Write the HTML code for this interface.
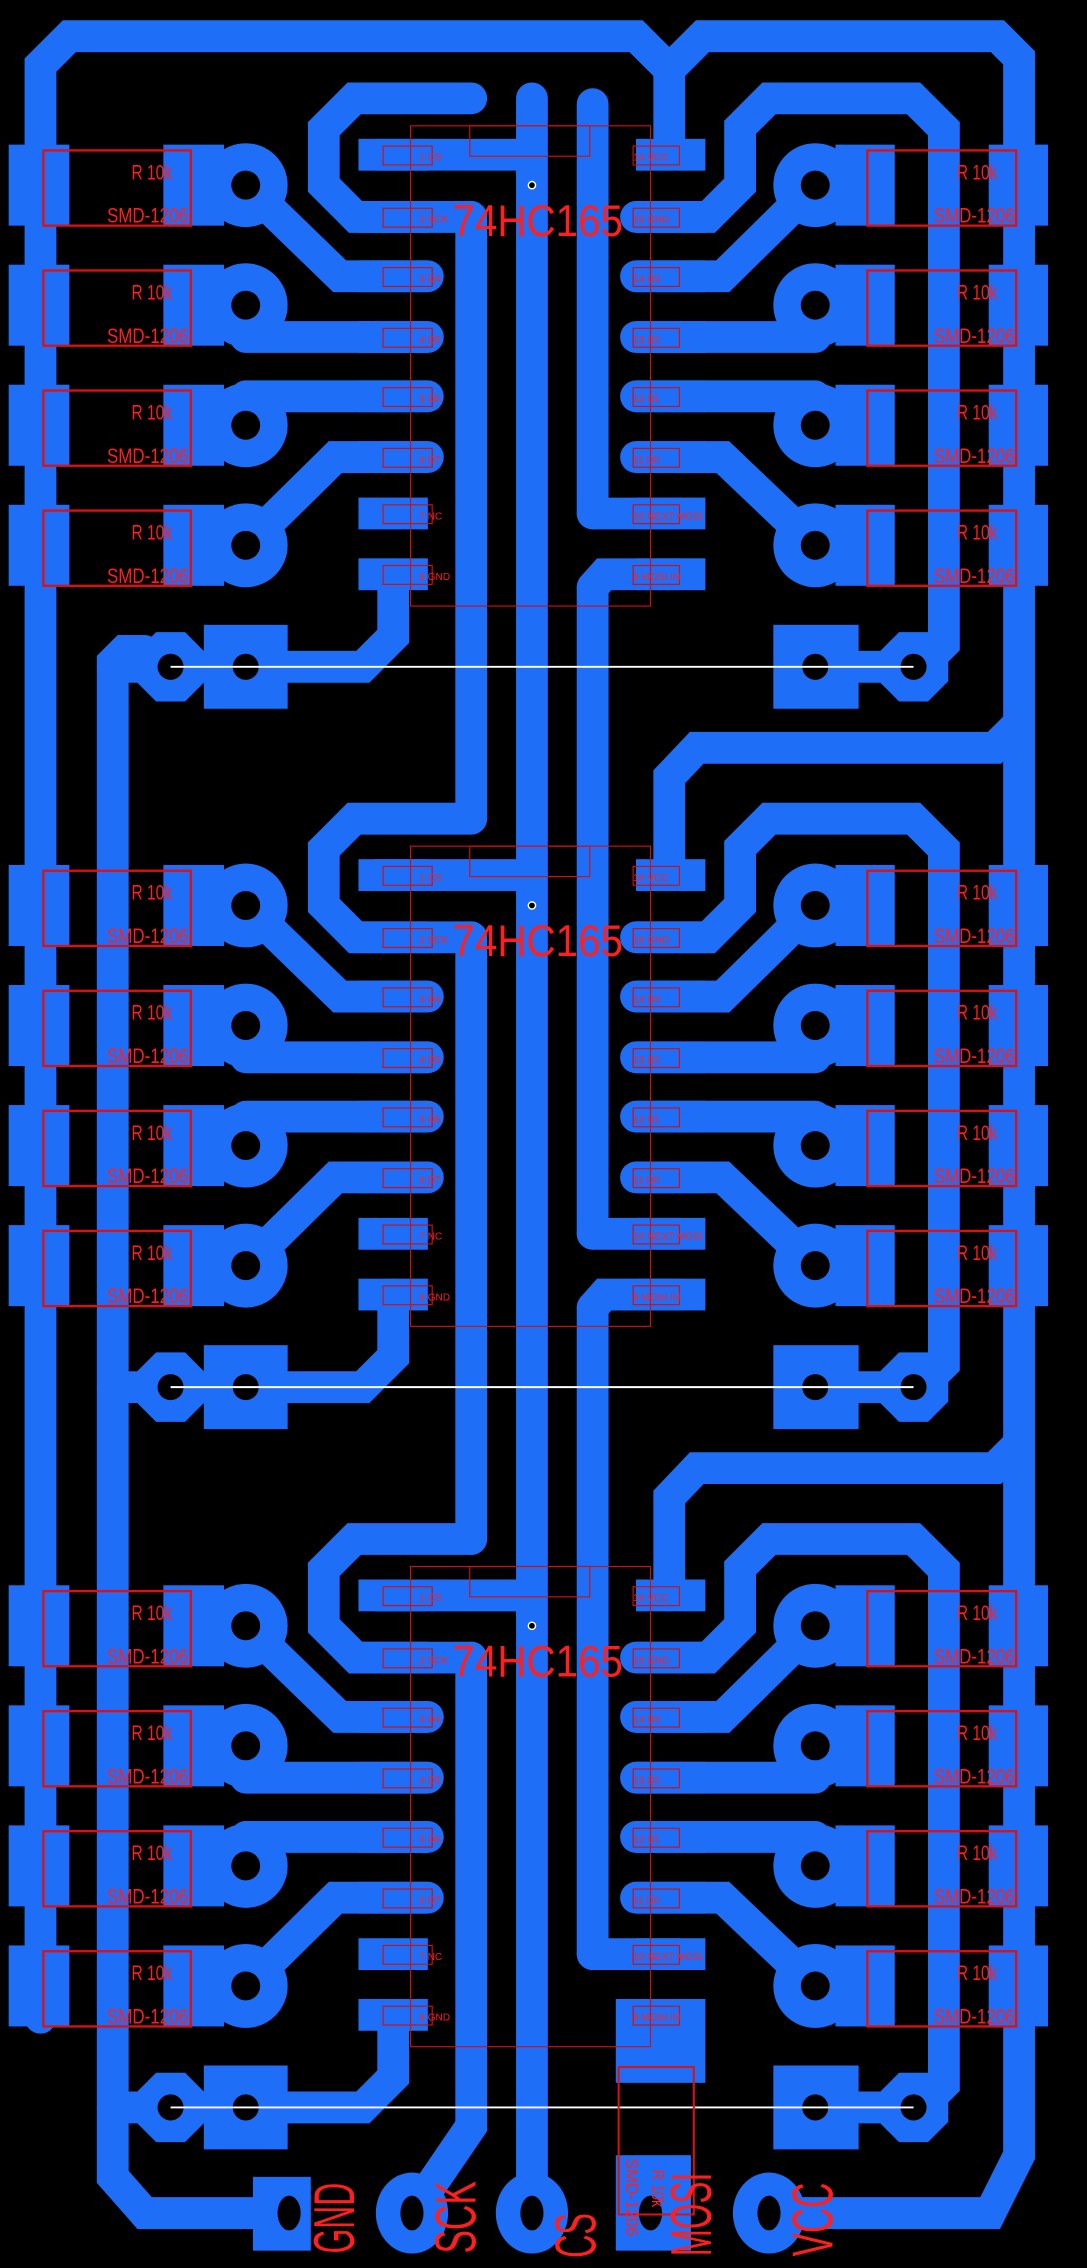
<!DOCTYPE html>
<html><head><meta charset="utf-8"><style>
html,body{margin:0;padding:0;background:#000;}
svg{display:block;}
text{font-family:"Liberation Sans Narrow","Liberation Sans",sans-serif;fill:#ff1f1f;}
</style></head><body>
<svg width="1087" height="2268" viewBox="0 0 752 1568" preserveAspectRatio="none" xmlns="http://www.w3.org/2000/svg">
<rect width="752" height="1568" fill="#000"/>

<g fill="none" stroke="#1f6ef8" stroke-width="22" stroke-linecap="round" stroke-linejoin="miter">
<path d="M28,1395 L28,45 L48,25 L440,25 L463,48 L463,107 M463,48 L486,25 L690,25 L705,40 L705,1490 L685,1530 L540,1530"/>
<path d="M100,450 L86,450 L78,458 L78,1505 L100,1530 L200,1530"/>
<path d="M368,68 L368,1530"/>
<path d="M410,72 L410,355 M410,406 L410,853 M410,904 L410,1351"/>
<path d="M326,150 L326,566 M326,648 L326,1064 M326,1146 L326,1470 L285,1530"/>
<path d="M463,605 L463,537 L482,517 L688,517 L705,500 M463,1103 L463,1035 L482,1015 L688,1015 L705,998"/>
</g>

<g>
<g fill="none" stroke="#1f6ef8" stroke-width="22" stroke-linecap="round">
<path d="M170,128 L235,191 L296,191 M170,233 L296,233 M170,274 L296,274 M170,377 L232,316 L296,316 M260,107 L368,107 M326,68 L245,68 L224,89 L224,128 L246,150 L326,150 M272,397 L272,440 L251,461 L190,461 M78,461 L118,461"/>
<path d="M564,128 L500,191 L440,191 M564,233 L440,233 M564,274 L440,274 M564,377 L500,316 L440,316 M440,150 L490,150 L512,128 L512,88 L532,68 L632,68 L653,89 L653,445 L637,461 L594,461 M470,397 L418,397 L410,406 M410,355 L470,355"/>
</g>
<g fill="#1f6ef8">
<rect x="6" y="100" width="42" height="56"/><rect x="113" y="100" width="42" height="56"/><circle cx="170" cy="128" r="29"/>
<rect x="6" y="183" width="42" height="56"/><rect x="113" y="183" width="42" height="56"/><circle cx="170" cy="211" r="29"/>
<rect x="6" y="266" width="42" height="56"/><rect x="113" y="266" width="42" height="56"/><circle cx="170" cy="294" r="29"/>
<rect x="6" y="349" width="42" height="56"/><rect x="113" y="349" width="42" height="56"/><circle cx="170" cy="377" r="29"/>
<rect x="684" y="100" width="41" height="56"/><rect x="578" y="100" width="41" height="56"/><circle cx="564" cy="128" r="29"/>
<rect x="684" y="183" width="41" height="56"/><rect x="578" y="183" width="41" height="56"/><circle cx="564" cy="211" r="29"/>
<rect x="684" y="266" width="41" height="56"/><rect x="578" y="266" width="41" height="56"/><circle cx="564" cy="294" r="29"/>
<rect x="684" y="349" width="41" height="56"/><rect x="578" y="349" width="41" height="56"/><circle cx="564" cy="377" r="29"/>
<rect x="248" y="96" width="48" height="22"/><rect x="248" y="139" width="48" height="22"/><rect x="248" y="180" width="48" height="22"/><rect x="248" y="222" width="48" height="22"/><rect x="248" y="263" width="48" height="22"/><rect x="248" y="305" width="48" height="22"/><rect x="248" y="344" width="48" height="22"/><rect x="248" y="386" width="48" height="22"/>
<rect x="440" y="96" width="48" height="22"/><rect x="440" y="139" width="48" height="22"/><rect x="440" y="180" width="48" height="22"/><rect x="440" y="222" width="48" height="22"/><rect x="440" y="263" width="48" height="22"/><rect x="440" y="305" width="48" height="22"/><rect x="440" y="344" width="48" height="22"/><rect x="440" y="386" width="48" height="22"/>
<rect x="141" y="432" width="58" height="58"/><polygon points="108,437 128,437 142,451 142,471 128,485 108,485 94,471 94,451"/>
<rect x="535" y="432" width="59" height="58"/><polygon points="622,437 642,437 656,451 656,471 642,485 622,485 608,471 608,451"/>
</g>
<g fill="#000">
<circle cx="170" cy="128" r="10"/><circle cx="170" cy="211" r="10"/><circle cx="170" cy="294" r="10"/><circle cx="170" cy="377" r="10"/>
<circle cx="564" cy="128" r="10"/><circle cx="564" cy="211" r="10"/><circle cx="564" cy="294" r="10"/><circle cx="564" cy="377" r="10"/>
<circle cx="118" cy="461" r="9"/><circle cx="170" cy="461" r="9"/><circle cx="564" cy="461" r="9"/><circle cx="632" cy="461" r="9"/>
</g>
<line x1="118" y1="461" x2="632" y2="461" stroke="#fff" stroke-width="1.3"/>
<g fill="none" stroke="#e01010" stroke-width="1.6">
<rect x="30" y="104" width="102" height="52"/><rect x="30" y="187" width="102" height="52"/><rect x="30" y="270" width="102" height="52"/><rect x="30" y="353" width="102" height="52"/>
<rect x="600" y="104" width="103" height="52"/><rect x="600" y="187" width="103" height="52"/><rect x="600" y="270" width="103" height="52"/><rect x="600" y="353" width="103" height="52"/>
</g>
<g fill="none" stroke="#d01010" stroke-width="0.8">
<rect x="284" y="87" width="166" height="332"/><rect x="325" y="87" width="83" height="21"/>
<rect x="265" y="101" width="34" height="13"/><rect x="265" y="144" width="34" height="13"/><rect x="265" y="185" width="34" height="13"/><rect x="265" y="227" width="34" height="13"/><rect x="265" y="268" width="34" height="13"/><rect x="265" y="310" width="34" height="13"/><rect x="265" y="349" width="34" height="13"/><rect x="265" y="391" width="34" height="13"/>
<rect x="438" y="101" width="32" height="13"/><rect x="438" y="144" width="32" height="13"/><rect x="438" y="185" width="32" height="13"/><rect x="438" y="227" width="32" height="13"/><rect x="438" y="268" width="32" height="13"/><rect x="438" y="310" width="32" height="13"/><rect x="438" y="349" width="32" height="13"/><rect x="438" y="391" width="32" height="13"/>
</g>
<circle cx="368" cy="128" r="2.5" fill="#000" stroke="#fff" stroke-width="1"/>
<g font-size="15">
<text x="91" y="124" textLength="28" lengthAdjust="spacingAndGlyphs">R 10k</text><text x="74" y="154" textLength="56" lengthAdjust="spacingAndGlyphs">SMD-1206</text>
<text x="91" y="207" textLength="28" lengthAdjust="spacingAndGlyphs">R 10k</text><text x="74" y="237" textLength="56" lengthAdjust="spacingAndGlyphs">SMD-1206</text>
<text x="91" y="290" textLength="28" lengthAdjust="spacingAndGlyphs">R 10k</text><text x="74" y="320" textLength="56" lengthAdjust="spacingAndGlyphs">SMD-1206</text>
<text x="91" y="373" textLength="28" lengthAdjust="spacingAndGlyphs">R 10k</text><text x="74" y="403" textLength="56" lengthAdjust="spacingAndGlyphs">SMD-1206</text>
<text x="662" y="124" textLength="28" lengthAdjust="spacingAndGlyphs">R 10k</text><text x="646" y="154" textLength="56" lengthAdjust="spacingAndGlyphs">SMD-1206</text>
<text x="662" y="207" textLength="28" lengthAdjust="spacingAndGlyphs">R 10k</text><text x="646" y="237" textLength="56" lengthAdjust="spacingAndGlyphs">SMD-1206</text>
<text x="662" y="290" textLength="28" lengthAdjust="spacingAndGlyphs">R 10k</text><text x="646" y="320" textLength="56" lengthAdjust="spacingAndGlyphs">SMD-1206</text>
<text x="662" y="373" textLength="28" lengthAdjust="spacingAndGlyphs">R 10k</text><text x="646" y="403" textLength="56" lengthAdjust="spacingAndGlyphs">SMD-1206</text>
</g>
<text x="313" y="163" font-size="31" textLength="118" lengthAdjust="spacingAndGlyphs">74HC165</text>
<g font-size="7">
<text x="290" y="111">1 CS</text><text x="290" y="154">2 SCK</text><text x="290" y="195">3 D4</text><text x="290" y="237">4 D5</text><text x="290" y="278">5 D6</text><text x="290" y="320">6 D7</text><text x="290" y="359">7 NC</text><text x="290" y="401">8 GND</text>
<text x="438" y="111">16 VCC</text><text x="438" y="154">15 GND</text><text x="438" y="195">14 D3</text><text x="438" y="237">13 D2</text><text x="438" y="278">12 D1</text><text x="438" y="320">11 D0</text><text x="438" y="359">10 NEXT MOSI</text><text x="438" y="401">9 MOSI IN</text>
</g>
</g>

<g transform="translate(0,498)">
<g fill="none" stroke="#1f6ef8" stroke-width="22" stroke-linecap="round">
<path d="M170,128 L235,191 L296,191 M170,233 L296,233 M170,274 L296,274 M170,377 L232,316 L296,316 M260,107 L368,107 M326,68 L245,68 L224,89 L224,128 L246,150 L326,150 M272,397 L272,440 L251,461 L190,461 M78,461 L118,461"/>
<path d="M564,128 L500,191 L440,191 M564,233 L440,233 M564,274 L440,274 M564,377 L500,316 L440,316 M440,150 L490,150 L512,128 L512,88 L532,68 L632,68 L653,89 L653,445 L637,461 L594,461 M470,397 L418,397 L410,406 M410,355 L470,355"/>
</g>
<g fill="#1f6ef8">
<rect x="6" y="100" width="42" height="56"/><rect x="113" y="100" width="42" height="56"/><circle cx="170" cy="128" r="29"/>
<rect x="6" y="183" width="42" height="56"/><rect x="113" y="183" width="42" height="56"/><circle cx="170" cy="211" r="29"/>
<rect x="6" y="266" width="42" height="56"/><rect x="113" y="266" width="42" height="56"/><circle cx="170" cy="294" r="29"/>
<rect x="6" y="349" width="42" height="56"/><rect x="113" y="349" width="42" height="56"/><circle cx="170" cy="377" r="29"/>
<rect x="684" y="100" width="41" height="56"/><rect x="578" y="100" width="41" height="56"/><circle cx="564" cy="128" r="29"/>
<rect x="684" y="183" width="41" height="56"/><rect x="578" y="183" width="41" height="56"/><circle cx="564" cy="211" r="29"/>
<rect x="684" y="266" width="41" height="56"/><rect x="578" y="266" width="41" height="56"/><circle cx="564" cy="294" r="29"/>
<rect x="684" y="349" width="41" height="56"/><rect x="578" y="349" width="41" height="56"/><circle cx="564" cy="377" r="29"/>
<rect x="248" y="96" width="48" height="22"/><rect x="248" y="139" width="48" height="22"/><rect x="248" y="180" width="48" height="22"/><rect x="248" y="222" width="48" height="22"/><rect x="248" y="263" width="48" height="22"/><rect x="248" y="305" width="48" height="22"/><rect x="248" y="344" width="48" height="22"/><rect x="248" y="386" width="48" height="22"/>
<rect x="440" y="96" width="48" height="22"/><rect x="440" y="139" width="48" height="22"/><rect x="440" y="180" width="48" height="22"/><rect x="440" y="222" width="48" height="22"/><rect x="440" y="263" width="48" height="22"/><rect x="440" y="305" width="48" height="22"/><rect x="440" y="344" width="48" height="22"/><rect x="440" y="386" width="48" height="22"/>
<rect x="141" y="432" width="58" height="58"/><polygon points="108,437 128,437 142,451 142,471 128,485 108,485 94,471 94,451"/>
<rect x="535" y="432" width="59" height="58"/><polygon points="622,437 642,437 656,451 656,471 642,485 622,485 608,471 608,451"/>
</g>
<g fill="#000">
<circle cx="170" cy="128" r="10"/><circle cx="170" cy="211" r="10"/><circle cx="170" cy="294" r="10"/><circle cx="170" cy="377" r="10"/>
<circle cx="564" cy="128" r="10"/><circle cx="564" cy="211" r="10"/><circle cx="564" cy="294" r="10"/><circle cx="564" cy="377" r="10"/>
<circle cx="118" cy="461" r="9"/><circle cx="170" cy="461" r="9"/><circle cx="564" cy="461" r="9"/><circle cx="632" cy="461" r="9"/>
</g>
<line x1="118" y1="461" x2="632" y2="461" stroke="#fff" stroke-width="1.3"/>
<g fill="none" stroke="#e01010" stroke-width="1.6">
<rect x="30" y="104" width="102" height="52"/><rect x="30" y="187" width="102" height="52"/><rect x="30" y="270" width="102" height="52"/><rect x="30" y="353" width="102" height="52"/>
<rect x="600" y="104" width="103" height="52"/><rect x="600" y="187" width="103" height="52"/><rect x="600" y="270" width="103" height="52"/><rect x="600" y="353" width="103" height="52"/>
</g>
<g fill="none" stroke="#d01010" stroke-width="0.8">
<rect x="284" y="87" width="166" height="332"/><rect x="325" y="87" width="83" height="21"/>
<rect x="265" y="101" width="34" height="13"/><rect x="265" y="144" width="34" height="13"/><rect x="265" y="185" width="34" height="13"/><rect x="265" y="227" width="34" height="13"/><rect x="265" y="268" width="34" height="13"/><rect x="265" y="310" width="34" height="13"/><rect x="265" y="349" width="34" height="13"/><rect x="265" y="391" width="34" height="13"/>
<rect x="438" y="101" width="32" height="13"/><rect x="438" y="144" width="32" height="13"/><rect x="438" y="185" width="32" height="13"/><rect x="438" y="227" width="32" height="13"/><rect x="438" y="268" width="32" height="13"/><rect x="438" y="310" width="32" height="13"/><rect x="438" y="349" width="32" height="13"/><rect x="438" y="391" width="32" height="13"/>
</g>
<circle cx="368" cy="128" r="2.5" fill="#000" stroke="#fff" stroke-width="1"/>
<g font-size="15">
<text x="91" y="124" textLength="28" lengthAdjust="spacingAndGlyphs">R 10k</text><text x="74" y="154" textLength="56" lengthAdjust="spacingAndGlyphs">SMD-1206</text>
<text x="91" y="207" textLength="28" lengthAdjust="spacingAndGlyphs">R 10k</text><text x="74" y="237" textLength="56" lengthAdjust="spacingAndGlyphs">SMD-1206</text>
<text x="91" y="290" textLength="28" lengthAdjust="spacingAndGlyphs">R 10k</text><text x="74" y="320" textLength="56" lengthAdjust="spacingAndGlyphs">SMD-1206</text>
<text x="91" y="373" textLength="28" lengthAdjust="spacingAndGlyphs">R 10k</text><text x="74" y="403" textLength="56" lengthAdjust="spacingAndGlyphs">SMD-1206</text>
<text x="662" y="124" textLength="28" lengthAdjust="spacingAndGlyphs">R 10k</text><text x="646" y="154" textLength="56" lengthAdjust="spacingAndGlyphs">SMD-1206</text>
<text x="662" y="207" textLength="28" lengthAdjust="spacingAndGlyphs">R 10k</text><text x="646" y="237" textLength="56" lengthAdjust="spacingAndGlyphs">SMD-1206</text>
<text x="662" y="290" textLength="28" lengthAdjust="spacingAndGlyphs">R 10k</text><text x="646" y="320" textLength="56" lengthAdjust="spacingAndGlyphs">SMD-1206</text>
<text x="662" y="373" textLength="28" lengthAdjust="spacingAndGlyphs">R 10k</text><text x="646" y="403" textLength="56" lengthAdjust="spacingAndGlyphs">SMD-1206</text>
</g>
<text x="313" y="163" font-size="31" textLength="118" lengthAdjust="spacingAndGlyphs">74HC165</text>
<g font-size="7">
<text x="290" y="111">1 CS</text><text x="290" y="154">2 SCK</text><text x="290" y="195">3 D4</text><text x="290" y="237">4 D5</text><text x="290" y="278">5 D6</text><text x="290" y="320">6 D7</text><text x="290" y="359">7 NC</text><text x="290" y="401">8 GND</text>
<text x="438" y="111">16 VCC</text><text x="438" y="154">15 GND</text><text x="438" y="195">14 D3</text><text x="438" y="237">13 D2</text><text x="438" y="278">12 D1</text><text x="438" y="320">11 D0</text><text x="438" y="359">10 NEXT MOSI</text><text x="438" y="401">9 MOSI IN</text>
</g>
</g>

<g transform="translate(0,996)">
<g fill="none" stroke="#1f6ef8" stroke-width="22" stroke-linecap="round">
<path d="M170,128 L235,191 L296,191 M170,233 L296,233 M170,274 L296,274 M170,377 L232,316 L296,316 M260,107 L368,107 M326,68 L245,68 L224,89 L224,128 L246,150 L326,150 M272,397 L272,440 L251,461 L190,461 M78,461 L118,461"/>
<path d="M564,128 L500,191 L440,191 M564,233 L440,233 M564,274 L440,274 M564,377 L500,316 L440,316 M440,150 L490,150 L512,128 L512,88 L532,68 L632,68 L653,89 L653,445 L637,461 L594,461 M410,355 L470,355"/>
</g>
<g fill="#1f6ef8">
<rect x="6" y="100" width="42" height="56"/><rect x="113" y="100" width="42" height="56"/><circle cx="170" cy="128" r="29"/>
<rect x="6" y="183" width="42" height="56"/><rect x="113" y="183" width="42" height="56"/><circle cx="170" cy="211" r="29"/>
<rect x="6" y="266" width="42" height="56"/><rect x="113" y="266" width="42" height="56"/><circle cx="170" cy="294" r="29"/>
<rect x="6" y="349" width="42" height="56"/><rect x="113" y="349" width="42" height="56"/><circle cx="170" cy="377" r="29"/>
<rect x="684" y="100" width="41" height="56"/><rect x="578" y="100" width="41" height="56"/><circle cx="564" cy="128" r="29"/>
<rect x="684" y="183" width="41" height="56"/><rect x="578" y="183" width="41" height="56"/><circle cx="564" cy="211" r="29"/>
<rect x="684" y="266" width="41" height="56"/><rect x="578" y="266" width="41" height="56"/><circle cx="564" cy="294" r="29"/>
<rect x="684" y="349" width="41" height="56"/><rect x="578" y="349" width="41" height="56"/><circle cx="564" cy="377" r="29"/>
<rect x="248" y="96" width="48" height="22"/><rect x="248" y="139" width="48" height="22"/><rect x="248" y="180" width="48" height="22"/><rect x="248" y="222" width="48" height="22"/><rect x="248" y="263" width="48" height="22"/><rect x="248" y="305" width="48" height="22"/><rect x="248" y="344" width="48" height="22"/><rect x="248" y="386" width="48" height="22"/>
<rect x="440" y="96" width="48" height="22"/><rect x="440" y="139" width="48" height="22"/><rect x="440" y="180" width="48" height="22"/><rect x="440" y="222" width="48" height="22"/><rect x="440" y="263" width="48" height="22"/><rect x="440" y="305" width="48" height="22"/><rect x="440" y="344" width="48" height="22"/><rect x="426" y="386" width="62" height="58"/>
<rect x="141" y="432" width="58" height="58"/><polygon points="108,437 128,437 142,451 142,471 128,485 108,485 94,471 94,451"/>
<rect x="535" y="432" width="59" height="58"/><polygon points="622,437 642,437 656,451 656,471 642,485 622,485 608,471 608,451"/>
</g>
<g fill="#000">
<circle cx="170" cy="128" r="10"/><circle cx="170" cy="211" r="10"/><circle cx="170" cy="294" r="10"/><circle cx="170" cy="377" r="10"/>
<circle cx="564" cy="128" r="10"/><circle cx="564" cy="211" r="10"/><circle cx="564" cy="294" r="10"/><circle cx="564" cy="377" r="10"/>
<circle cx="118" cy="461" r="9"/><circle cx="170" cy="461" r="9"/><circle cx="564" cy="461" r="9"/><circle cx="632" cy="461" r="9"/>
</g>
<line x1="118" y1="461" x2="632" y2="461" stroke="#fff" stroke-width="1.3"/>
<g fill="none" stroke="#e01010" stroke-width="1.6">
<rect x="30" y="104" width="102" height="52"/><rect x="30" y="187" width="102" height="52"/><rect x="30" y="270" width="102" height="52"/><rect x="30" y="353" width="102" height="52"/>
<rect x="600" y="104" width="103" height="52"/><rect x="600" y="187" width="103" height="52"/><rect x="600" y="270" width="103" height="52"/><rect x="600" y="353" width="103" height="52"/>
</g>
<g fill="none" stroke="#d01010" stroke-width="0.8">
<rect x="284" y="87" width="166" height="332"/><rect x="325" y="87" width="83" height="21"/>
<rect x="265" y="101" width="34" height="13"/><rect x="265" y="144" width="34" height="13"/><rect x="265" y="185" width="34" height="13"/><rect x="265" y="227" width="34" height="13"/><rect x="265" y="268" width="34" height="13"/><rect x="265" y="310" width="34" height="13"/><rect x="265" y="349" width="34" height="13"/><rect x="265" y="391" width="34" height="13"/>
<rect x="438" y="101" width="32" height="13"/><rect x="438" y="144" width="32" height="13"/><rect x="438" y="185" width="32" height="13"/><rect x="438" y="227" width="32" height="13"/><rect x="438" y="268" width="32" height="13"/><rect x="438" y="310" width="32" height="13"/><rect x="438" y="349" width="32" height="13"/><rect x="438" y="391" width="32" height="13"/>
</g>
<circle cx="368" cy="128" r="2.5" fill="#000" stroke="#fff" stroke-width="1"/>
<g font-size="15">
<text x="91" y="124" textLength="28" lengthAdjust="spacingAndGlyphs">R 10k</text><text x="74" y="154" textLength="56" lengthAdjust="spacingAndGlyphs">SMD-1206</text>
<text x="91" y="207" textLength="28" lengthAdjust="spacingAndGlyphs">R 10k</text><text x="74" y="237" textLength="56" lengthAdjust="spacingAndGlyphs">SMD-1206</text>
<text x="91" y="290" textLength="28" lengthAdjust="spacingAndGlyphs">R 10k</text><text x="74" y="320" textLength="56" lengthAdjust="spacingAndGlyphs">SMD-1206</text>
<text x="91" y="373" textLength="28" lengthAdjust="spacingAndGlyphs">R 10k</text><text x="74" y="403" textLength="56" lengthAdjust="spacingAndGlyphs">SMD-1206</text>
<text x="662" y="124" textLength="28" lengthAdjust="spacingAndGlyphs">R 10k</text><text x="646" y="154" textLength="56" lengthAdjust="spacingAndGlyphs">SMD-1206</text>
<text x="662" y="207" textLength="28" lengthAdjust="spacingAndGlyphs">R 10k</text><text x="646" y="237" textLength="56" lengthAdjust="spacingAndGlyphs">SMD-1206</text>
<text x="662" y="290" textLength="28" lengthAdjust="spacingAndGlyphs">R 10k</text><text x="646" y="320" textLength="56" lengthAdjust="spacingAndGlyphs">SMD-1206</text>
<text x="662" y="373" textLength="28" lengthAdjust="spacingAndGlyphs">R 10k</text><text x="646" y="403" textLength="56" lengthAdjust="spacingAndGlyphs">SMD-1206</text>
</g>
<text x="313" y="163" font-size="31" textLength="118" lengthAdjust="spacingAndGlyphs">74HC165</text>
<g font-size="7">
<text x="290" y="111">1 CS</text><text x="290" y="154">2 SCK</text><text x="290" y="195">3 D4</text><text x="290" y="237">4 D5</text><text x="290" y="278">5 D6</text><text x="290" y="320">6 D7</text><text x="290" y="359">7 NC</text><text x="290" y="401">8 GND</text>
<text x="438" y="111">16 VCC</text><text x="438" y="154">15 GND</text><text x="438" y="195">14 D3</text><text x="438" y="237">13 D2</text><text x="438" y="278">12 D1</text><text x="438" y="320">11 D0</text><text x="438" y="359">10 NEXT MOSI</text><text x="438" y="401">9 MOSI IN</text>
</g>
</g>

<g fill="#1f6ef8">
<rect x="175" y="1505" width="40" height="51"/>
<ellipse cx="285" cy="1530" rx="25" ry="28"/>
<ellipse cx="368" cy="1530" rx="25" ry="28"/>
<rect x="426" y="1490" width="52" height="66"/>
<ellipse cx="532" cy="1530" rx="25" ry="28"/>
</g>
<g fill="#000">
<ellipse cx="200" cy="1530" rx="8" ry="12"/>
<ellipse cx="285" cy="1530" rx="8" ry="12"/>
<ellipse cx="368" cy="1530" rx="8" ry="12"/>
<ellipse cx="450" cy="1530" rx="8" ry="12"/>
<ellipse cx="532" cy="1530" rx="8" ry="12"/>
</g>
<rect x="428" y="1429" width="52" height="102" fill="none" stroke="#e01010" stroke-width="1.4"/>
<text transform="translate(433,1492) rotate(90)" font-size="12" textLength="54" lengthAdjust="spacingAndGlyphs">SMD-1206</text>
<text transform="translate(451,1500) rotate(90)" font-size="12" textLength="26" lengthAdjust="spacingAndGlyphs">R 10k</text>
<g font-size="40">
<text transform="translate(245,1558) rotate(-90)" textLength="49" lengthAdjust="spacingAndGlyphs">GND</text>
<text transform="translate(329,1558) rotate(-90)" textLength="50" lengthAdjust="spacingAndGlyphs">SCK</text>
<text transform="translate(412,1561) rotate(-90)" textLength="31" lengthAdjust="spacingAndGlyphs">CS</text>
<text transform="translate(492,1560) rotate(-90)" textLength="58" lengthAdjust="spacingAndGlyphs">MOSI</text>
<text transform="translate(576,1560) rotate(-90)" textLength="51" lengthAdjust="spacingAndGlyphs">VCC</text>
</g>
</svg>
</body></html>
